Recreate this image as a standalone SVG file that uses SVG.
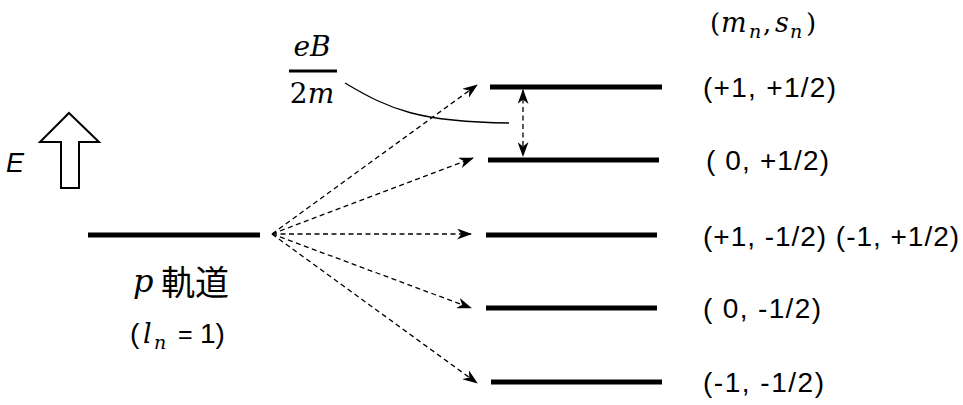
<svg xmlns="http://www.w3.org/2000/svg" width="963" height="405" viewBox="0 0 963 405">
<style>
.lvl{stroke:#000;stroke-width:5;fill:none}
.dash{stroke:#000;stroke-width:1.3;stroke-dasharray:5,3.5;fill:none}
.lab{font-family:"Liberation Sans","Open Sans",Arial,sans-serif;font-size:28px;fill:#000}
.sans{font-family:"Liberation Sans","Open Sans",Arial,sans-serif;fill:#000}
.math{font-family:"DejaVu Serif","Liberation Serif",serif;font-style:italic;fill:#000}
.up{font-family:"DejaVu Serif","Liberation Serif",serif;fill:#000}
</style>
<defs>
<marker id="ah" viewBox="0 0 15 11" refX="14" refY="5.5" markerWidth="15" markerHeight="11" markerUnits="userSpaceOnUse" orient="auto-start-reverse">
<path d="M0,0 L15,5.5 L0,11 L4.5,5.5 Z" fill="#000"/>
</marker>
</defs>
<rect width="963" height="405" fill="#fff"/>
<g id="energy-axis">
<path d="M69,113 L99,142 L79,142 L79,188 L61,188 L61,142 L40,142 Z" fill="#fff" stroke="#000" stroke-width="2"/>
<text x="6" y="172" class="sans" font-style="italic" font-size="27">E</text>
</g>
<g id="p-orbital">
<line class="lvl" x1="88" y1="235" x2="260" y2="235"/>
<text class="math" x="133" y="292" font-size="32">p</text>
<text x="161" y="295" font-family="'Noto Sans CJK JP','Noto Sans CJK SC',sans-serif" font-size="34">軌道</text>
<text class="sans" x="130" y="343" font-size="28">(</text>
<text class="math" x="143" y="343" font-size="27">l</text>
<text class="math" x="154" y="349" font-size="19">n</text>
<text class="sans" x="178" y="343" font-size="25">=</text>
<text class="sans" x="200" y="343" font-size="28">1)</text>
</g>
<g id="level-1">
<line class="lvl" x1="490" y1="87" x2="662" y2="87"/>
<text class="lab" x="703" y="97" textLength="133" lengthAdjust="spacing">(+1, +1/2)</text>
</g>
<g id="level-2">
<line class="lvl" x1="488" y1="160" x2="659" y2="160"/>
<text class="lab" x="706" y="170" textLength="123" lengthAdjust="spacing">( 0, +1/2)</text>
</g>
<g id="level-3">
<line class="lvl" x1="486" y1="235" x2="657" y2="235"/>
<text class="lab" x="703" y="246" textLength="256" lengthAdjust="spacing">(+1, -1/2) (-1, +1/2)</text>
</g>
<g id="level-4">
<line class="lvl" x1="486" y1="308" x2="657" y2="308"/>
<text class="lab" x="703" y="318" textLength="118" lengthAdjust="spacing">( 0, -1/2)</text>
</g>
<g id="level-5">
<line class="lvl" x1="491" y1="382" x2="662" y2="382"/>
<text class="lab" x="703" y="392" textLength="121" lengthAdjust="spacing">(-1, -1/2)</text>
</g>
<g id="header">
<text class="up" x="710" y="32" font-size="26">(</text>
<text class="math" x="721" y="32" font-size="27">m</text>
<text class="math" x="749" y="38" font-size="19">n</text>
<text class="up" x="763" y="32" font-size="26">,</text>
<text class="math" x="775" y="32" font-size="27">s</text>
<text class="math" x="790" y="38" font-size="19">n</text>
<text class="up" x="806" y="32" font-size="26">)</text>
</g>
<g id="fraction">
<text class="math" x="312" y="56" font-size="28" text-anchor="middle">eB</text>
<line x1="289" y1="71" x2="337" y2="71" stroke="#000" stroke-width="3"/>
<text x="312" y="103" font-size="28" text-anchor="middle" class="up">2<tspan class="math">m</tspan></text>
</g>
<g id="connectors">
<line class="dash" x1="272" y1="234" x2="477" y2="85" marker-end="url(#ah)"/>
<line class="dash" x1="272" y1="234" x2="473" y2="158" marker-end="url(#ah)"/>
<line class="dash" x1="272" y1="234" x2="471" y2="234" marker-end="url(#ah)"/>
<line class="dash" x1="272" y1="234" x2="471" y2="308" marker-end="url(#ah)"/>
<line class="dash" x1="272" y1="234" x2="477" y2="383" marker-end="url(#ah)"/>
<line class="dash" x1="523" y1="90" x2="523" y2="156" stroke-width="1.6" marker-start="url(#ah)" marker-end="url(#ah)"/>
<path d="M345,83 C390,110 420,122 509,123" fill="none" stroke="#000" stroke-width="1.3"/>
</g>
</svg>
